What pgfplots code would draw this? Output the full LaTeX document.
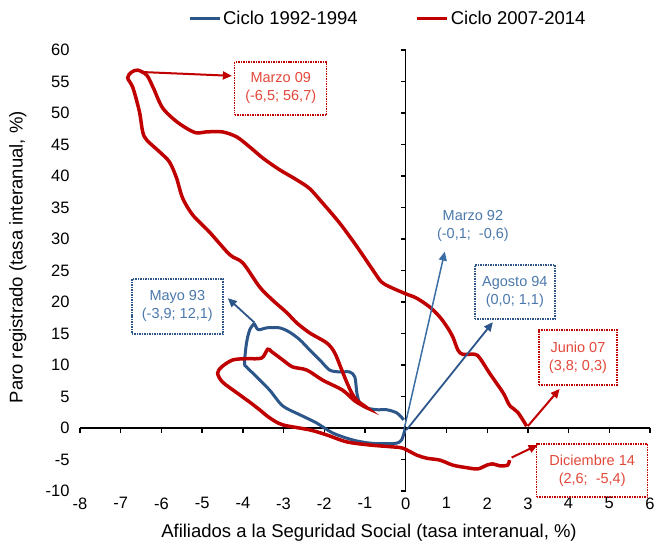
\documentclass[border=0pt]{standalone}
\usepackage{fontspec}
\setmainfont{Liberation Sans}
\usepackage{pgfplots}
\pgfplotsset{compat=1.18}
\usetikzlibrary{arrows.meta}
\definecolor{cred}{HTML}{C00000}
\definecolor{cblue}{HTML}{2C568A}
\definecolor{tred}{HTML}{E2483A}
\definecolor{tblue}{HTML}{4A78AC}
\definecolor{ablue}{HTML}{3A6EA5}
\begin{document}
\begin{tikzpicture}
\path[use as bounding box] (0,0) rectangle (654bp,545bp);
\begin{axis}[
  at={(80bp,54bp)}, anchor=south west,
  width=570bp, height=441bp, scale only axis,
  xmin=-8, xmax=6, ymin=-10, ymax=60,
  xtick={-8,...,6}, ytick={-10,-5,...,60},
  axis x line*=bottom, axis y line*=left,
  axis line style={draw=none},
  major tick length=0pt,
  clip=false,
  /pgf/number format/assume math mode=true,
  ticklabel style={font=\fontsize{16.5bp}{19bp}\selectfont},
  xticklabel style={yshift=-3bp},
  yticklabel style={xshift=-7bp},
  xlabel={Afiliados a la Seguridad Social (tasa interanual, \%)},
  ylabel={Paro registrado (tasa interanual, \%)},
  label style={font=\fontsize{18.5bp}{22bp}\selectfont},
  xlabel style={at={(axis description cs:0.507,-0.095)}, anchor=center},
  ylabel style={at={(axis description cs:-0.109,0.53)}, anchor=center},
  legend columns=2,
  legend style={at={(axis description cs:0.54,1)}, anchor=south, yshift=20bp, draw=none, fill=none,
    font=\fontsize{18.5bp}{22bp}\selectfont,
    /tikz/every even column/.append style={column sep=56bp}},
  legend image code/.code={\draw[#1, line width=3bp] (0,0) -- (30bp,0);},
]
% middle axis lines
\draw[black, line width=1.3bp] (axis cs:-8,0) -- (axis cs:6,0);
\draw[black, line width=1.3bp] (axis cs:0,-10) -- (axis cs:0,60);
\pgfplotsinvokeforeach{-8,...,6}{\draw[black, line width=1.3bp] (axis cs:#1,0) -- ([yshift=-4.5bp]axis cs:#1,0);}
\pgfplotsinvokeforeach{-10,-5,...,60}{\draw[black, line width=1.3bp] (axis cs:0,#1) -- ([xshift=-4.5bp]axis cs:0,#1);}

% Ciclo 1992-1994
\addplot[cblue, line width=3bp, smooth, tension=0.5] coordinates {
(-0.02,-0.3) (-0.1,-1.9) (-0.22,-2.4) (-0.47,-2.5) (-0.88,-2.4) (-1.3,-1.9) (-1.79,-0.8)
(-2.19,0.8) (-2.6,2.1) (-3.02,3.5) (-3.34,6.0) (-3.66,8.1) (-3.91,9.7) (-3.96,10.3)
(-3.91,13.5) (-3.83,15.6) (-3.72,16.6)
};
\addlegendentry{Ciclo 1992-1994}
\addplot[cblue, line width=3bp, smooth, tension=0.5, forget plot] coordinates {
(-3.72,16.6) (-3.62,15.6) (-3.42,15.9) (-3.1,15.9) (-2.85,15.2) (-2.6,14.0) (-2.36,12.4)
(-2.11,10.8) (-1.87,9.2) (-1.62,8.9) (-1.38,8.9) (-1.25,8.1) (-1.2,5.6) (-1.13,4.0)
(-0.96,3.2) (-0.71,2.9) (-0.47,2.9) (-0.22,2.4) (-0.05,1.3)
};
% Ciclo 2007-2014
\addplot[cred, line width=3.5bp, smooth, tension=0.5] coordinates {
(2.97,0.3) (2.75,2.5) (2.55,3.6) (2.4,5.5) (2.06,8.7) (1.82,11.1) (1.7,11.7) (1.4,11.7)
(1.28,12.4) (1.16,14.4) (1.03,15.9) (0.84,17.6) (0.59,19.2) (0.27,20.6) (0.0,21.3)
(-0.39,22.4) (-0.6,23.2) (-0.81,25.1) (-1.2,28.8) (-1.62,32.5) (-2.04,35.7) (-2.36,38.0)
(-2.68,39.4) (-3.1,41.0) (-3.5,42.8) (-3.83,44.6) (-4.15,46.2) (-4.5,47.0) (-4.9,47.0)
(-5.18,46.9) (-5.6,48.5) (-5.97,50.8) (-6.2,54.0) (-6.36,56.0) (-6.58,56.8) (-6.73,56.5)
(-6.83,55.6) (-6.7,54.0) (-6.54,50.2) (-6.46,47.0) (-6.36,45.7) (-6.04,43.8) (-5.8,42.2)
(-5.63,39.7) (-5.48,36.5) (-5.23,33.8) (-4.82,31.1) (-4.32,27.5) (-4.0,26.2) (-3.59,22.4)
(-3.27,20.3) (-2.92,18.3) (-2.68,16.7) (-2.36,15.1) (-1.94,13.5) (-1.75,12.0) (-1.57,9.2)
(-1.45,7.3) (-1.33,5.6) (-1.2,4.4) (-0.95,3.2) (-1.25,4.3) (-1.55,6.0) (-2.04,7.6)
(-2.43,9.2) (-2.78,9.7) (-3.02,10.8) (-3.29,12.1) (-3.39,12.5) (-3.54,11.1) (-3.91,11.0)
(-4.25,10.8) (-4.52,9.7) (-4.62,8.7) (-4.5,7.3) (-4.15,5.6) (-3.83,4.1) (-3.59,2.9)
(-3.34,1.6) (-3.02,0.5) (-2.36,-0.3) (-1.94,-1.1) (-1.45,-2.2) (-0.88,-2.7) (-0.32,-3.0)
(-0.07,-3.2) (0.27,-4.3) (0.52,-4.8) (0.84,-5.1) (1.16,-5.9) (1.5,-6.3) (1.77,-6.5)
(1.99,-5.9) (2.14,-5.7) (2.31,-6.0) (2.5,-5.9) (2.55,-5.1)
};
\addlegendentry{Ciclo 2007-2014}

% arrows
\addplot[cred, line width=2bp, -{Triangle[length=9bp,width=8bp]}, forget plot] coordinates {(-6.46,56.5) (-4.27,55.9)};
\addplot[cblue, line width=1.8bp, -{Triangle[length=9bp,width=8bp]}, forget plot] coordinates {(-3.71,16.7) (-4.37,20.6)};
\addplot[ablue, line width=1.5bp, -{Triangle[length=9bp,width=8bp]}, forget plot] coordinates {(-0.05,-0.5) (0.96,28.0)};
\addplot[cblue, line width=1.8bp, -{Triangle[length=9bp,width=8bp]}, forget plot] coordinates {(0.02,-0.3) (2.14,16.8)};
\addplot[cred, line width=2bp, -{Triangle[length=9bp,width=8bp]}, forget plot] coordinates {(3.0,0.3) (3.78,6.2)};
\addplot[cred, line width=2bp, -{Triangle[length=9bp,width=8bp]}, forget plot] coordinates {(2.6,-4.7) (3.24,-2.7)};

% annotations
\tikzset{ann/.style={densely dotted, line width=1.5bp, align=center, inner sep=0pt,
  font=\fontsize{14.5bp}{18bp}\selectfont}}
\node[ann, draw=cred, text=tred, minimum width=92bp, minimum height=53bp] at (axis cs:-3.07,53.9) {Marzo 09\\(-6,5; 56,7)};
\node[ann, draw=cblue, text=tblue, minimum width=91bp, minimum height=55bp] at (axis cs:-5.61,19.3) {Mayo 93\\(-3,9; 12,1)};
\node[ann, text=tblue] at (axis cs:1.65,32.1) {Marzo 92\\(-0,1;\ \ -0,6)};
\node[ann, draw=cblue, text=tblue, minimum width=80bp, minimum height=54bp] at (axis cs:2.68,21.6) {Agosto 94\\(0,0; 1,1)};
\node[ann, draw=cred, text=tred, minimum width=78bp, minimum height=55bp] at (axis cs:4.23,11.2) {Junio 07\\(3,8; 0,3)};
\node[ann, draw=cred, text=tred, minimum width=111bp, minimum height=53bp] at (axis cs:4.58,-6.75) {Diciembre 14\\(2,6;\ \ -5,4)};
\end{axis}
\end{tikzpicture}
\end{document}
